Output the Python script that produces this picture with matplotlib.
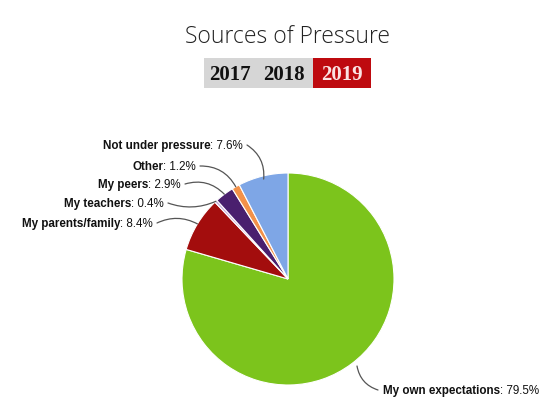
import matplotlib
matplotlib.use("Agg")
import matplotlib.pyplot as plt
from matplotlib.patches import Rectangle
import numpy as np

title = "Sources of Pressure"
years = ["2017", "2018", "2019"]
categories = ["My own expectations", "My parents/family", "My teachers",
              "My peers", "Other", "Not under pressure"]
values = [79.5, 8.4, 0.4, 2.9, 1.2, 7.6]
colors = ["#7cc41c", "#a30d0d", "#c9a9dc", "#4a1f6e", "#f39149", "#7ea6e6"]

W, H = 558, 406
fig = plt.figure(figsize=(W / 100, H / 100), dpi=100)
ax = fig.add_axes([0, 0, 1, 1])
ax.set_xlim(0, W)
ax.set_ylim(0, H)
ax.set_aspect("equal")
ax.axis("off")

def Y(y):
    return H - y

cx, cy, R = 288, Y(280), 106
wedges, _ = ax.pie(values, colors=colors, startangle=90, counterclock=False,
                   center=(cx, cy), radius=R,
                   wedgeprops=dict(edgecolor="white", linewidth=0.8))
ax.set_xlim(0, W)
ax.set_ylim(0, H)

# title
ax.text(287, Y(37), title, ha="center", va="center", fontsize=16.5,
        family="Open Sans", weight="light", color="#222222")

# year tabs
ax.add_patch(Rectangle((204, Y(89)), 109, 30, facecolor="#d6d6d6", edgecolor="none"))
ax.add_patch(Rectangle((313, Y(89)), 58, 30, facecolor="#be0a0f", edgecolor="none"))
tab_x = [230, 284, 342]
tab_c = ["#111111", "#111111", "#fbe3e3"]
for t, x, c in zip(years, tab_x, tab_c):
    ax.text(x, Y(75), t, ha="center", va="center", fontsize=15,
            family="Liberation Serif", weight="bold", color=c)

fig.canvas.draw()
renderer = fig.canvas.get_renderer()

# label layout: (right end x, y) in pixels, connector radius
label_pos = {
    "Not under pressure": (243, 146, -0.3, 0.97),
    "Other": (196, 167, -0.3, 1.0),
    "My peers": (181, 185, -0.3, 1.0),
    "My teachers": (164, 204, 0.2, 1.0),
    "My parents/family": (153, 224, -0.25, 1.0),
}
fs = 8.4
for w, cat, v in zip(wedges, categories, values):
    mid = np.deg2rad((w.theta1 + w.theta2) / 2)
    if cat == "My own expectations":
        px, py = 357, Y(367)
        t1 = ax.text(383, Y(391), cat, ha="left", va="center", fontsize=fs,
                     family="Liberation Sans", weight="bold", color="#111111")
        bb = t1.get_window_extent(renderer)
        ax.text(bb.x1, Y(391), f": {v}%", ha="left", va="center", fontsize=fs,
                family="Liberation Sans", color="#111111")
        ax.annotate("", xy=(px, py), xytext=(378, Y(391)),
                    arrowprops=dict(arrowstyle="-", color="#555555", lw=0.9,
                                    connectionstyle="arc3,rad=-0.3",
                                    shrinkA=0, shrinkB=0))
        continue
    xe, ye, rad, rf = label_pos[cat]
    t2 = ax.text(xe, Y(ye), f": {v}%", ha="right", va="center", fontsize=fs,
                 family="Liberation Sans", color="#111111")
    bb = t2.get_window_extent(renderer)
    ax.text(bb.x0, Y(ye), cat, ha="right", va="center", fontsize=fs,
            family="Liberation Sans", weight="bold", color="#111111")
    px, py = cx + R * rf * np.cos(mid), cy + R * rf * np.sin(mid)
    ax.annotate("", xy=(px, py), xytext=(xe + 4, Y(ye)),
                arrowprops=dict(arrowstyle="-", color="#555555", lw=0.9,
                                connectionstyle=f"arc3,rad={rad}",
                                shrinkA=0, shrinkB=0))

fig.savefig("out.png", dpi=100, facecolor="white")
